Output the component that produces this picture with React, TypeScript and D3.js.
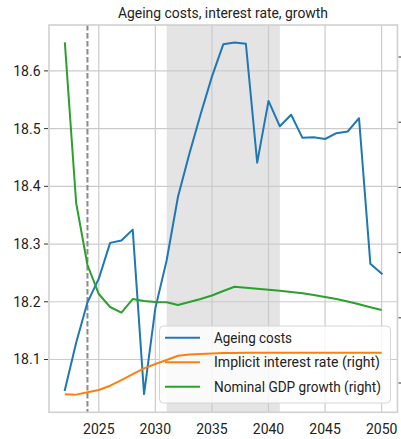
import React from "react";
import * as d3 from "d3";

const years: number[] = d3.range(2022, 2051);

const ageingCosts: number[] = [
  18.047, 18.129, 18.199, 18.240, 18.302, 18.306, 18.325, 18.040, 18.189, 18.272,
  18.382, 18.456, 18.525, 18.590, 18.646, 18.649, 18.647, 18.441, 18.548, 18.504,
  18.524, 18.484, 18.485, 18.482, 18.492, 18.495, 18.518, 18.266, 18.249,
];

const interestRate: number[] = [
  0.826, 0.822, 0.857, 0.893, 0.959, 1.046, 1.138, 1.225, 1.291, 1.353,
  1.419, 1.437, 1.445, 1.452, 1.460, 1.462, 1.463, 1.463, 1.464, 1.464,
  1.464, 1.465, 1.465, 1.465, 1.465, 1.465, 1.466, 1.466, 1.466,
];

const gdpGrowth: number[] = [
  6.225, 3.761, 2.810, 2.365, 2.166, 2.081, 2.288, 2.258, 2.242, 2.238,
  2.196, 2.242, 2.288, 2.342, 2.411, 2.477, 2.460, 2.445, 2.429, 2.414,
  2.396, 2.376, 2.350, 2.319, 2.288, 2.250, 2.209, 2.163, 2.120,
];

const leftTicks: number[] = [18.1, 18.2, 18.3, 18.4, 18.5, 18.6];
const rightTicks: number[] = [1, 2, 3, 4, 5, 6];
const xTicks: number[] = [2025, 2030, 2035, 2040, 2045, 2050];
const shadeRange: number[] = [2031, 2041];
const markerYear = 2024;
const title = "Ageing costs, interest rate, growth";
const seriesNames: string[] = [
  "Ageing costs",
  "Implicit interest rate (right)",
  "Nominal GDP growth (right)",
];
const legendWidths: number[] = [78, 166, 167];
const colors: string[] = ["#1f77b4", "#ff7f0e", "#2ca02c"];

const W = 401;
const H = 439;
const L = 49, R = 397.5, T = 25, B = 412.3;
const FONT = "Roboto, 'Liberation Sans', sans-serif";

export default function App() {
  const x = d3.scaleLinear().domain([2020.6, 2051.4]).range([L, R]);
  const yL = d3.scaleLinear().domain([18.0085, 18.6795]).range([B, T]);
  const yR = d3.scaleLinear().domain([0.551, 6.491]).range([B, T]);

  const lineL = d3.line<number>().x((_, i) => x(years[i])).y((d) => yL(d));
  const lineR = d3.line<number>().x((_, i) => x(years[i])).y((d) => yR(d));

  const legX = 159.5, legY = 326, legW = 231, legH = 77;
  const legRows = [337.7, 362.3, 386.7];

  return (
    <svg width={W} height={H} style={{ position: "absolute", left: 0, top: 0, display: "block" }}
      fontFamily={FONT}>
      <rect x={0} y={0} width={W} height={H} fill="#ffffff" />
      <text x={118} y={17.5} fontSize={14} fill="#222" textLength={210} lengthAdjust="spacingAndGlyphs">{title}</text>

      {/* shaded span */}
      <rect x={x(shadeRange[0])} y={T} width={x(shadeRange[1]) - x(shadeRange[0])} height={B - T} fill="#e4e4e4" />

      {/* grid */}
      {leftTicks.map((t) => (
        <line key={"hg" + t} x1={L} x2={R} y1={yL(t)} y2={yL(t)} stroke="#cbcbcb" strokeWidth={1.2} />
      ))}
      {xTicks.map((t) => (
        <line key={"vg" + t} x1={x(t)} x2={x(t)} y1={T} y2={B} stroke="#cbcbcb" strokeWidth={1.2} />
      ))}

      {/* dashed marker */}
      <line x1={x(markerYear)} x2={x(markerYear)} y1={T} y2={B} stroke="#8a8a8a" strokeWidth={2} strokeDasharray="5.5 2.5" />

      {/* left series */}
      <path d={lineL(ageingCosts) ?? ""} fill="none" stroke={colors[0]} strokeWidth={2} strokeLinejoin="round" strokeLinecap="square" />

      {/* spines */}
      <rect x={L} y={T} width={R - L} height={B - T} fill="none" stroke="#d0d0d0" strokeWidth={1.6} />

      {/* left ticks */}
      {leftTicks.map((t) => (
        <g key={"lt" + t}>
          <line x1={L - 5} x2={L - 1} y1={yL(t)} y2={yL(t)} stroke="#333" strokeWidth={1} />
          <text x={40.5} y={yL(t) + 5} textAnchor="end" fontSize={14} fill="#222">{t.toFixed(1)}</text>
        </g>
      ))}
      {/* x tick labels */}
      {xTicks.map((t) => (
        <text key={"xt" + t} x={x(t)} y={433.5} textAnchor="middle" fontSize={14} fill="#222">{t}</text>
      ))}

      {/* legend (belongs to left axes) */}
      <rect x={legX} y={legY} width={legW} height={legH} rx={4} ry={4} fill="#ffffff" fillOpacity={0.8} stroke="#d6d6d6" strokeWidth={1} />
      {seriesNames.map((n, i) => (
        <g key={"lg" + i}>
          <line x1={165} x2={200} y1={legRows[i]} y2={legRows[i]} stroke={colors[i]} strokeWidth={2} />
          <text x={214} y={legRows[i] + 5} fontSize={14} fill="#222" textLength={legendWidths[i]} lengthAdjust="spacingAndGlyphs">{n}</text>
        </g>
      ))}

      {/* right series (twin axes, drawn on top) */}
      <path d={lineR(interestRate) ?? ""} fill="none" stroke={colors[1]} strokeWidth={2} strokeLinejoin="round" />
      <path d={lineR(gdpGrowth) ?? ""} fill="none" stroke={colors[2]} strokeWidth={2} strokeLinejoin="round" />

      {/* right ticks (labels fall outside the visible area in the reference) */}
      {rightTicks.map((t) => (
        <line key={"rt" + t} x1={R + 1} x2={R + 5} y1={yR(t)} y2={yR(t)} stroke="#333" strokeWidth={1} />
      ))}
    </svg>
  );
}
